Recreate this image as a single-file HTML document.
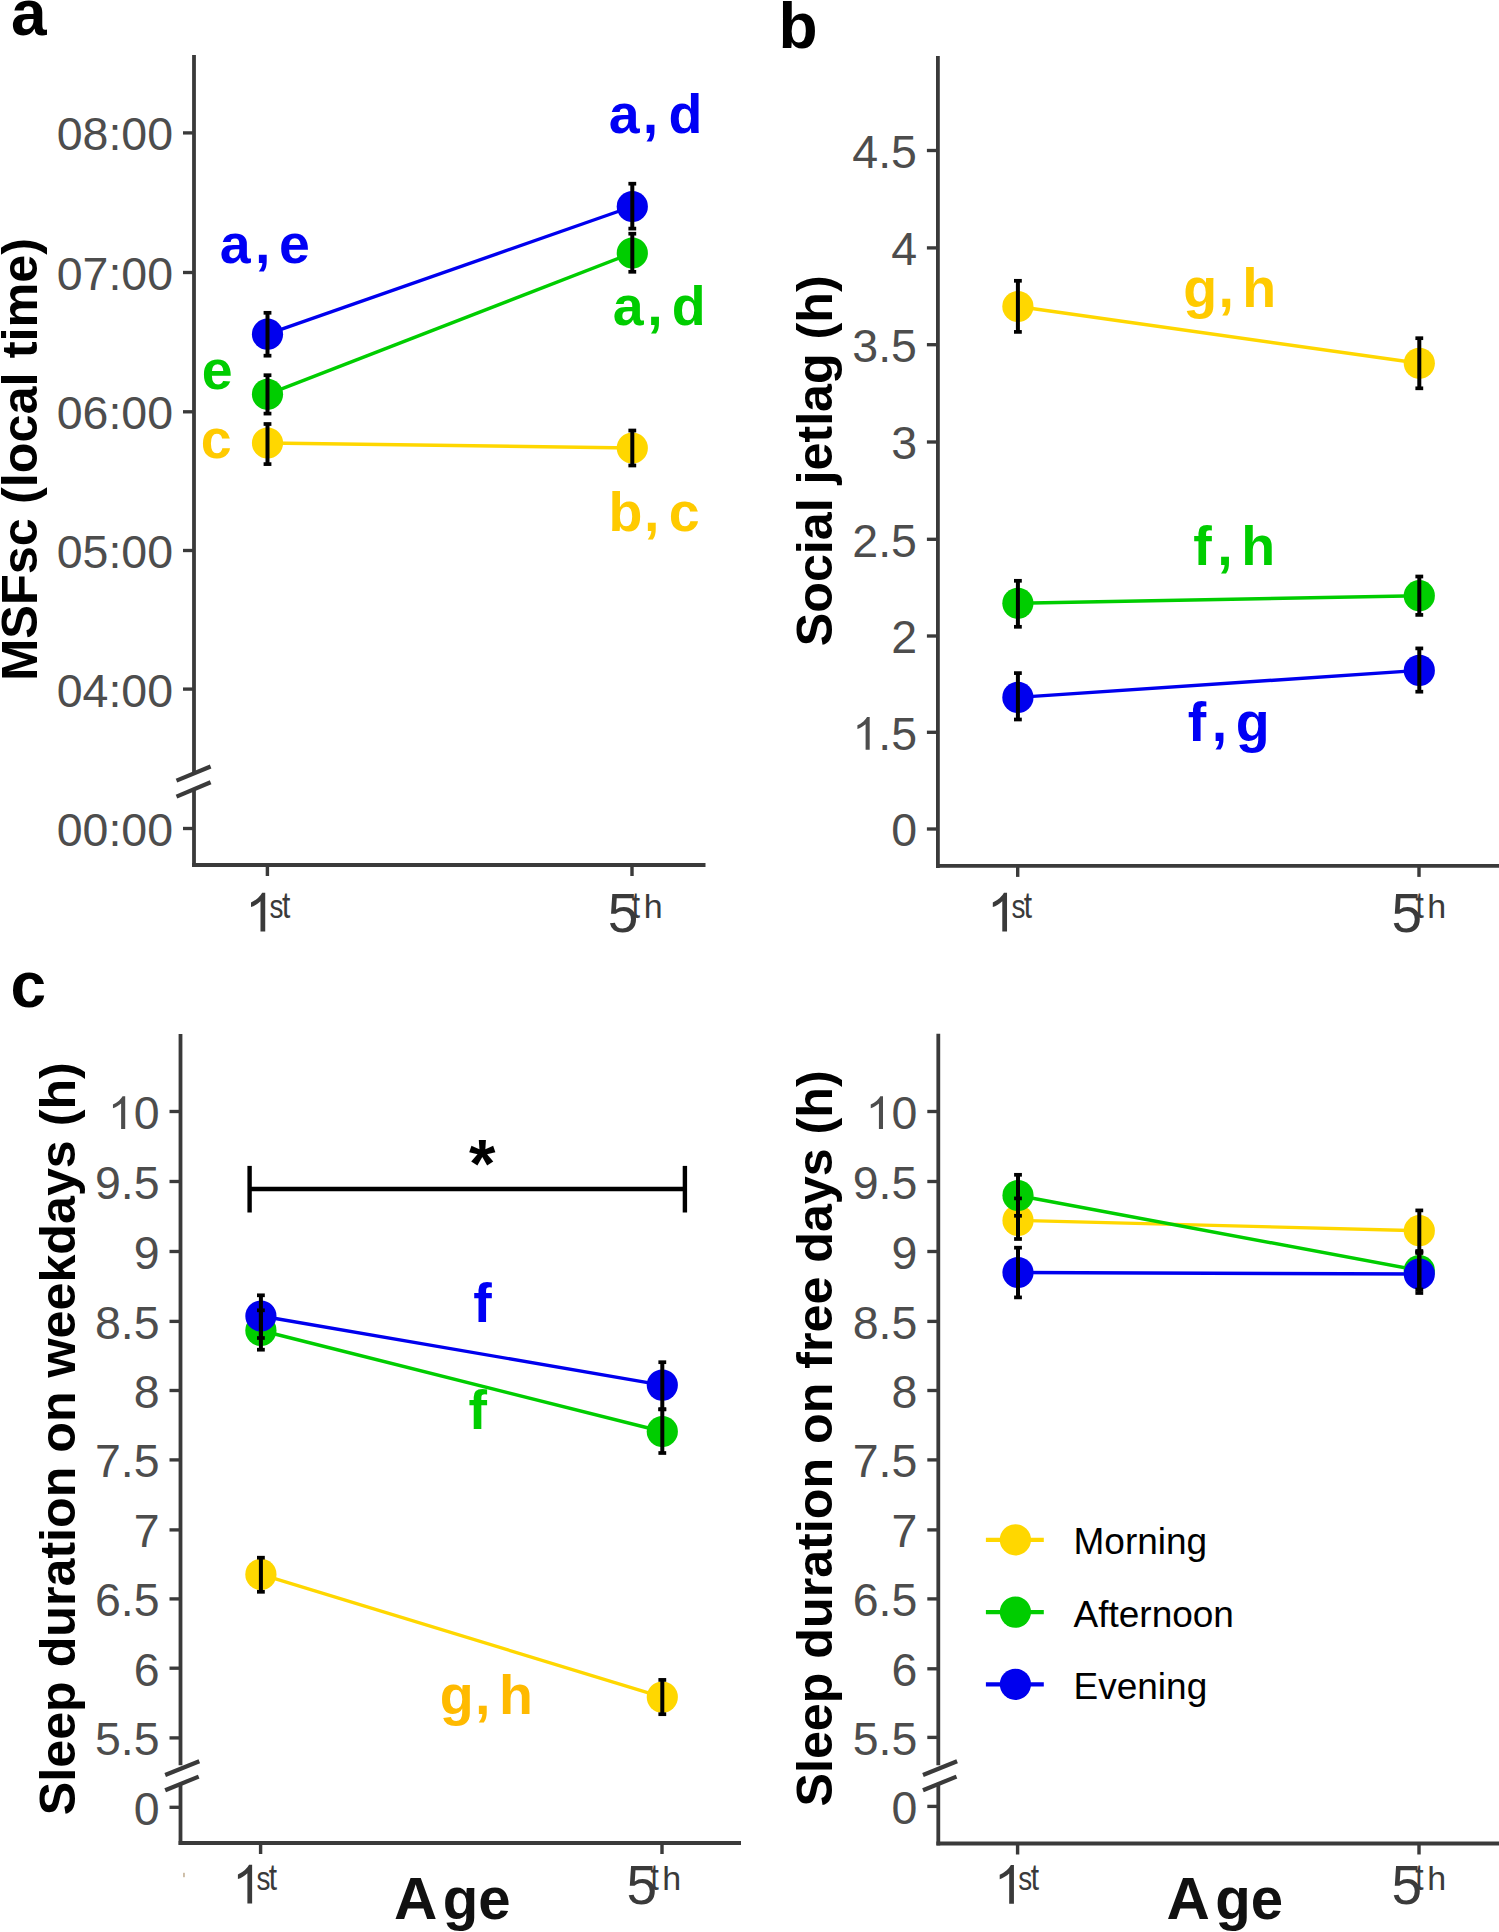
<!DOCTYPE html>
<html><head><meta charset="utf-8"><style>
html,body{margin:0;padding:0;background:#fff;overflow:hidden}
svg{display:block;font-family:"Liberation Sans",sans-serif}
</style></head><body>
<svg width="1499" height="1932" viewBox="0 0 1499 1932">
<rect width="1499" height="1932" fill="#fff"/>
<text x="11" y="35.3" font-size="64" fill="#000" font-weight="bold" text-anchor="start" >a</text>
<line x1="194" y1="55" x2="194" y2="774" stroke="#3A3A3A" stroke-width="3.8" stroke-linecap="butt"/>
<line x1="194" y1="790" x2="194" y2="866.9" stroke="#3A3A3A" stroke-width="3.8" stroke-linecap="butt"/>
<line x1="183" y1="132.9" x2="194" y2="132.9" stroke="#3A3A3A" stroke-width="3.344" stroke-linecap="butt"/>
<text x="173.10" y="150.30" font-size="46.5" fill="#4D4D4D" font-weight="normal" text-anchor="end" >08:00</text>
<line x1="183" y1="272.5" x2="194" y2="272.5" stroke="#3A3A3A" stroke-width="3.344" stroke-linecap="butt"/>
<text x="173.10" y="289.90" font-size="46.5" fill="#4D4D4D" font-weight="normal" text-anchor="end" >07:00</text>
<line x1="183" y1="411.8" x2="194" y2="411.8" stroke="#3A3A3A" stroke-width="3.344" stroke-linecap="butt"/>
<text x="173.10" y="429.20" font-size="46.5" fill="#4D4D4D" font-weight="normal" text-anchor="end" >06:00</text>
<line x1="183" y1="550.5" x2="194" y2="550.5" stroke="#3A3A3A" stroke-width="3.344" stroke-linecap="butt"/>
<text x="173.10" y="567.90" font-size="46.5" fill="#4D4D4D" font-weight="normal" text-anchor="end" >05:00</text>
<line x1="183" y1="689.1" x2="194" y2="689.1" stroke="#3A3A3A" stroke-width="3.344" stroke-linecap="butt"/>
<text x="173.10" y="706.50" font-size="46.5" fill="#4D4D4D" font-weight="normal" text-anchor="end" >04:00</text>
<line x1="183" y1="828.5" x2="194" y2="828.5" stroke="#3A3A3A" stroke-width="3.344" stroke-linecap="butt"/>
<text x="173.10" y="845.90" font-size="46.5" fill="#4D4D4D" font-weight="normal" text-anchor="end" >00:00</text>
<line x1="192.1" y1="865" x2="705.5" y2="865" stroke="#3A3A3A" stroke-width="3.8" stroke-linecap="butt"/>
<line x1="267.4" y1="865" x2="267.4" y2="876" stroke="#3A3A3A" stroke-width="3.42" stroke-linecap="butt"/>
<line x1="632" y1="865" x2="632" y2="876" stroke="#3A3A3A" stroke-width="3.42" stroke-linecap="butt"/>
<line x1="176.5" y1="780.6" x2="210.6" y2="766.5" stroke="#3A3A3A" stroke-width="4.2" stroke-linecap="butt"/>
<line x1="176.5" y1="796.6" x2="210.6" y2="782.2" stroke="#3A3A3A" stroke-width="4.2" stroke-linecap="butt"/>
<text transform="translate(37.4,680.7) rotate(-90)" font-size="50.45" font-weight="bold" fill="#000">MSFsc (local time)</text>
<path d="M763 0L583 0L583 1147Q518 1085 413 1023Q308 961 223 930L223 1104Q374 1175 487 1276Q600 1377 647 1472L763 1472Z" fill="#3A3A3A" transform="translate(245.12,931.60) scale(0.02636,-0.02636)"/>
<text transform="translate(269.62,918.40) scale(0.82,1)" font-size="34" fill="#3A3A3A">s</text>
<text transform="translate(281.95,918.40) scale(0.88,1.11)" font-size="34" fill="#3A3A3A">t</text>
<text x="607.80" y="932.20" font-size="55" fill="#3A3A3A" font-weight="normal" text-anchor="start" >5</text>
<text transform="translate(631.75,918.40) scale(0.88,1.11)" font-size="34" fill="#3A3A3A">t</text>
<text x="643.64" y="918.40" font-size="34" fill="#3A3A3A" font-weight="normal" text-anchor="start" >h</text>
<line x1="267.5" y1="443" x2="632.3" y2="448" stroke="#FFD700" stroke-width="3.4" stroke-linecap="butt"/>
<line x1="267.5" y1="394.3" x2="632.3" y2="253" stroke="#00CD00" stroke-width="3.4" stroke-linecap="butt"/>
<line x1="267.5" y1="334.2" x2="632.3" y2="206.5" stroke="#0000EE" stroke-width="3.4" stroke-linecap="butt"/>
<circle cx="267.5" cy="443" r="15.6" fill="#FFD700"/>
<circle cx="632.3" cy="448" r="15.6" fill="#FFD700"/>
<circle cx="267.5" cy="394.3" r="15.6" fill="#00CD00"/>
<circle cx="632.3" cy="253" r="15.6" fill="#00CD00"/>
<circle cx="267.5" cy="334.2" r="15.6" fill="#0000EE"/>
<circle cx="632.3" cy="206.5" r="15.6" fill="#0000EE"/>
<rect x="265.50" y="424.00" width="4.0" height="40.10" fill="#000"/>
<rect x="263.60" y="422.15" width="7.8" height="3.7" fill="#000"/>
<rect x="263.60" y="462.25" width="7.8" height="3.7" fill="#000"/>
<rect x="630.30" y="430.50" width="4.0" height="35.00" fill="#000"/>
<rect x="628.40" y="428.65" width="7.8" height="3.7" fill="#000"/>
<rect x="628.40" y="463.65" width="7.8" height="3.7" fill="#000"/>
<rect x="265.50" y="375.20" width="4.0" height="38.40" fill="#000"/>
<rect x="263.60" y="373.35" width="7.8" height="3.7" fill="#000"/>
<rect x="263.60" y="411.75" width="7.8" height="3.7" fill="#000"/>
<rect x="630.30" y="233.70" width="4.0" height="38.10" fill="#000"/>
<rect x="628.40" y="231.85" width="7.8" height="3.7" fill="#000"/>
<rect x="628.40" y="269.95" width="7.8" height="3.7" fill="#000"/>
<rect x="265.50" y="312.80" width="4.0" height="42.90" fill="#000"/>
<rect x="263.60" y="310.95" width="7.8" height="3.7" fill="#000"/>
<rect x="263.60" y="353.85" width="7.8" height="3.7" fill="#000"/>
<rect x="630.30" y="183.70" width="4.0" height="44.90" fill="#000"/>
<rect x="628.40" y="181.85" width="7.8" height="3.7" fill="#000"/>
<rect x="628.40" y="226.75" width="7.8" height="3.7" fill="#000"/>
<text x="608.67" y="133.4" font-size="55.5" fill="#0000F5" font-weight="bold" text-anchor="start" >a</text>
<text x="642.83" y="133.4" font-size="55.5" fill="#0000F5" font-weight="bold" text-anchor="start" >,</text>
<text x="668.52" y="133.4" font-size="55.5" fill="#0000F5" font-weight="bold" text-anchor="start" >d</text>
<text x="219.87" y="263" font-size="55.5" fill="#0000F5" font-weight="bold" text-anchor="start" >a</text>
<text x="255.03" y="263" font-size="55.5" fill="#0000F5" font-weight="bold" text-anchor="start" >,</text>
<text x="278.94" y="263" font-size="55.5" fill="#0000F5" font-weight="bold" text-anchor="start" >e</text>
<text x="612.67" y="324.5" font-size="55.5" fill="#00CD00" font-weight="bold" text-anchor="start" >a</text>
<text x="647.33" y="324.5" font-size="55.5" fill="#00CD00" font-weight="bold" text-anchor="start" >,</text>
<text x="671.82" y="324.5" font-size="55.5" fill="#00CD00" font-weight="bold" text-anchor="start" >d</text>
<text x="201.84" y="389.3" font-size="55.5" fill="#00CD00" font-weight="bold" text-anchor="start" >e</text>
<text x="200.64" y="457.9" font-size="55.5" fill="#FFCA00" font-weight="bold" text-anchor="start" >c</text>
<text x="608.44" y="530.7" font-size="55.5" fill="#FFCA00" font-weight="bold" text-anchor="start" >b</text>
<text x="643.93" y="530.7" font-size="55.5" fill="#FFCA00" font-weight="bold" text-anchor="start" >,</text>
<text x="668.64" y="530.7" font-size="55.5" fill="#FFCA00" font-weight="bold" text-anchor="start" >c</text>
<text x="778.5" y="47.7" font-size="64" fill="#000" font-weight="bold" text-anchor="start" >b</text>
<line x1="937.9" y1="56" x2="937.9" y2="867.9" stroke="#3A3A3A" stroke-width="3.8" stroke-linecap="butt"/>
<line x1="926.9" y1="150.5" x2="937.9" y2="150.5" stroke="#3A3A3A" stroke-width="3.344" stroke-linecap="butt"/>
<text x="917.00" y="167.90" font-size="46.5" fill="#4D4D4D" font-weight="normal" text-anchor="end" >4.5</text>
<line x1="926.9" y1="247.9" x2="937.9" y2="247.9" stroke="#3A3A3A" stroke-width="3.344" stroke-linecap="butt"/>
<text x="917.00" y="265.30" font-size="46.5" fill="#4D4D4D" font-weight="normal" text-anchor="end" >4</text>
<line x1="926.9" y1="344.7" x2="937.9" y2="344.7" stroke="#3A3A3A" stroke-width="3.344" stroke-linecap="butt"/>
<text x="917.00" y="362.10" font-size="46.5" fill="#4D4D4D" font-weight="normal" text-anchor="end" >3.5</text>
<line x1="926.9" y1="442.0" x2="937.9" y2="442.0" stroke="#3A3A3A" stroke-width="3.344" stroke-linecap="butt"/>
<text x="917.00" y="459.40" font-size="46.5" fill="#4D4D4D" font-weight="normal" text-anchor="end" >3</text>
<line x1="926.9" y1="539.3" x2="937.9" y2="539.3" stroke="#3A3A3A" stroke-width="3.344" stroke-linecap="butt"/>
<text x="917.00" y="556.70" font-size="46.5" fill="#4D4D4D" font-weight="normal" text-anchor="end" >2.5</text>
<line x1="926.9" y1="636.0" x2="937.9" y2="636.0" stroke="#3A3A3A" stroke-width="3.344" stroke-linecap="butt"/>
<text x="917.00" y="653.40" font-size="46.5" fill="#4D4D4D" font-weight="normal" text-anchor="end" >2</text>
<line x1="926.9" y1="732.3" x2="937.9" y2="732.3" stroke="#3A3A3A" stroke-width="3.344" stroke-linecap="butt"/>
<path d="M763 0L583 0L583 1147Q518 1085 413 1023Q308 961 223 930L223 1104Q374 1175 487 1276Q600 1377 647 1472L763 1472Z" fill="#4D4D4D" transform="translate(852.36,749.70) scale(0.02271,-0.02214)"/>
<text x="917.00" y="749.70" font-size="46.5" fill="#4D4D4D" font-weight="normal" text-anchor="end" >.5</text>
<line x1="926.9" y1="829.0" x2="937.9" y2="829.0" stroke="#3A3A3A" stroke-width="3.344" stroke-linecap="butt"/>
<text x="917.00" y="846.40" font-size="46.5" fill="#4D4D4D" font-weight="normal" text-anchor="end" >0</text>
<line x1="936" y1="865.9" x2="1499" y2="865.9" stroke="#3A3A3A" stroke-width="3.8" stroke-linecap="butt"/>
<line x1="1017.7" y1="865.9" x2="1017.7" y2="876.9" stroke="#3A3A3A" stroke-width="3.42" stroke-linecap="butt"/>
<line x1="1419" y1="865.9" x2="1419" y2="876.9" stroke="#3A3A3A" stroke-width="3.42" stroke-linecap="butt"/>
<text transform="translate(832,646.2) rotate(-90)" font-size="50.2" font-weight="bold" fill="#000">Social jetlag (h)</text>
<path d="M763 0L583 0L583 1147Q518 1085 413 1023Q308 961 223 930L223 1104Q374 1175 487 1276Q600 1377 647 1472L763 1472Z" fill="#3A3A3A" transform="translate(986.92,931.60) scale(0.02636,-0.02636)"/>
<text transform="translate(1011.42,918.40) scale(0.82,1)" font-size="34" fill="#3A3A3A">s</text>
<text transform="translate(1023.75,918.40) scale(0.88,1.11)" font-size="34" fill="#3A3A3A">t</text>
<text x="1391.50" y="932.20" font-size="55" fill="#3A3A3A" font-weight="normal" text-anchor="start" >5</text>
<text transform="translate(1415.45,918.40) scale(0.88,1.11)" font-size="34" fill="#3A3A3A">t</text>
<text x="1427.34" y="918.40" font-size="34" fill="#3A3A3A" font-weight="normal" text-anchor="start" >h</text>
<line x1="1017.9" y1="306.5" x2="1419.3" y2="363.3" stroke="#FFD700" stroke-width="3.4" stroke-linecap="butt"/>
<line x1="1017.9" y1="603.3" x2="1419.3" y2="595.7" stroke="#00CD00" stroke-width="3.4" stroke-linecap="butt"/>
<line x1="1017.9" y1="697.4" x2="1419.3" y2="670.4" stroke="#0000EE" stroke-width="3.4" stroke-linecap="butt"/>
<circle cx="1017.9" cy="306.5" r="15.6" fill="#FFD700"/>
<circle cx="1419.3" cy="363.3" r="15.6" fill="#FFD700"/>
<circle cx="1017.9" cy="603.3" r="15.6" fill="#00CD00"/>
<circle cx="1419.3" cy="595.7" r="15.6" fill="#00CD00"/>
<circle cx="1017.9" cy="697.4" r="15.6" fill="#0000EE"/>
<circle cx="1419.3" cy="670.4" r="15.6" fill="#0000EE"/>
<rect x="1015.90" y="280.80" width="4.0" height="51.10" fill="#000"/>
<rect x="1014.00" y="278.95" width="7.8" height="3.7" fill="#000"/>
<rect x="1014.00" y="330.05" width="7.8" height="3.7" fill="#000"/>
<rect x="1417.30" y="338.20" width="4.0" height="50.10" fill="#000"/>
<rect x="1415.40" y="336.35" width="7.8" height="3.7" fill="#000"/>
<rect x="1415.40" y="386.45" width="7.8" height="3.7" fill="#000"/>
<rect x="1015.90" y="580.80" width="4.0" height="46.00" fill="#000"/>
<rect x="1014.00" y="578.95" width="7.8" height="3.7" fill="#000"/>
<rect x="1014.00" y="624.95" width="7.8" height="3.7" fill="#000"/>
<rect x="1417.30" y="576.50" width="4.0" height="38.40" fill="#000"/>
<rect x="1415.40" y="574.65" width="7.8" height="3.7" fill="#000"/>
<rect x="1415.40" y="613.05" width="7.8" height="3.7" fill="#000"/>
<rect x="1015.90" y="673.10" width="4.0" height="46.40" fill="#000"/>
<rect x="1014.00" y="671.25" width="7.8" height="3.7" fill="#000"/>
<rect x="1014.00" y="717.65" width="7.8" height="3.7" fill="#000"/>
<rect x="1417.30" y="648.40" width="4.0" height="43.30" fill="#000"/>
<rect x="1415.40" y="646.55" width="7.8" height="3.7" fill="#000"/>
<rect x="1415.40" y="689.85" width="7.8" height="3.7" fill="#000"/>
<text x="1183.32" y="306.7" font-size="55.5" fill="#FFCA00" font-weight="bold" text-anchor="start" >g</text>
<text x="1218.53" y="306.7" font-size="55.5" fill="#FFCA00" font-weight="bold" text-anchor="start" >,</text>
<text x="1242.33" y="306.7" font-size="55.5" fill="#FFCA00" font-weight="bold" text-anchor="start" >h</text>
<text x="1193.35" y="564.7" font-size="55.5" fill="#00CD00" font-weight="bold" text-anchor="start" >f</text>
<text x="1217.23" y="564.7" font-size="55.5" fill="#00CD00" font-weight="bold" text-anchor="start" >,</text>
<text x="1241.13" y="564.7" font-size="55.5" fill="#00CD00" font-weight="bold" text-anchor="start" >h</text>
<text x="1187.75" y="741.4" font-size="55.5" fill="#0000F5" font-weight="bold" text-anchor="start" >f</text>
<text x="1211.63" y="741.4" font-size="55.5" fill="#0000F5" font-weight="bold" text-anchor="start" >,</text>
<text x="1235.72" y="741.4" font-size="55.5" fill="#0000F5" font-weight="bold" text-anchor="start" >g</text>
<text x="10.5" y="1007.4" font-size="64" fill="#000" font-weight="bold" text-anchor="start" >c</text>
<line x1="180.5" y1="1034" x2="180.5" y2="1765.3" stroke="#3A3A3A" stroke-width="3.8" stroke-linecap="butt"/>
<line x1="180.5" y1="1784.6" x2="180.5" y2="1844.9" stroke="#3A3A3A" stroke-width="3.8" stroke-linecap="butt"/>
<line x1="169.5" y1="1111.5" x2="180.5" y2="1111.5" stroke="#3A3A3A" stroke-width="3.344" stroke-linecap="butt"/>
<path d="M763 0L583 0L583 1147Q518 1085 413 1023Q308 961 223 930L223 1104Q374 1175 487 1276Q600 1377 647 1472L763 1472Z" fill="#4D4D4D" transform="translate(107.88,1128.90) scale(0.02271,-0.02214)"/>
<text x="159.60" y="1128.90" font-size="46.5" fill="#4D4D4D" font-weight="normal" text-anchor="end" >0</text>
<line x1="169.5" y1="1181.5" x2="180.5" y2="1181.5" stroke="#3A3A3A" stroke-width="3.344" stroke-linecap="butt"/>
<text x="159.60" y="1198.90" font-size="46.5" fill="#4D4D4D" font-weight="normal" text-anchor="end" >9.5</text>
<line x1="169.5" y1="1251.5" x2="180.5" y2="1251.5" stroke="#3A3A3A" stroke-width="3.344" stroke-linecap="butt"/>
<text x="159.60" y="1268.90" font-size="46.5" fill="#4D4D4D" font-weight="normal" text-anchor="end" >9</text>
<line x1="169.5" y1="1321.4" x2="180.5" y2="1321.4" stroke="#3A3A3A" stroke-width="3.344" stroke-linecap="butt"/>
<text x="159.60" y="1338.80" font-size="46.5" fill="#4D4D4D" font-weight="normal" text-anchor="end" >8.5</text>
<line x1="169.5" y1="1390.5" x2="180.5" y2="1390.5" stroke="#3A3A3A" stroke-width="3.344" stroke-linecap="butt"/>
<text x="159.60" y="1407.90" font-size="46.5" fill="#4D4D4D" font-weight="normal" text-anchor="end" >8</text>
<line x1="169.5" y1="1459.9" x2="180.5" y2="1459.9" stroke="#3A3A3A" stroke-width="3.344" stroke-linecap="butt"/>
<text x="159.60" y="1477.30" font-size="46.5" fill="#4D4D4D" font-weight="normal" text-anchor="end" >7.5</text>
<line x1="169.5" y1="1529.9" x2="180.5" y2="1529.9" stroke="#3A3A3A" stroke-width="3.344" stroke-linecap="butt"/>
<text x="159.60" y="1547.30" font-size="46.5" fill="#4D4D4D" font-weight="normal" text-anchor="end" >7</text>
<line x1="169.5" y1="1598.9" x2="180.5" y2="1598.9" stroke="#3A3A3A" stroke-width="3.344" stroke-linecap="butt"/>
<text x="159.60" y="1616.30" font-size="46.5" fill="#4D4D4D" font-weight="normal" text-anchor="end" >6.5</text>
<line x1="169.5" y1="1668.2" x2="180.5" y2="1668.2" stroke="#3A3A3A" stroke-width="3.344" stroke-linecap="butt"/>
<text x="159.60" y="1685.60" font-size="46.5" fill="#4D4D4D" font-weight="normal" text-anchor="end" >6</text>
<line x1="169.5" y1="1737.9" x2="180.5" y2="1737.9" stroke="#3A3A3A" stroke-width="3.344" stroke-linecap="butt"/>
<text x="159.60" y="1755.30" font-size="46.5" fill="#4D4D4D" font-weight="normal" text-anchor="end" >5.5</text>
<line x1="169.5" y1="1807.3" x2="180.5" y2="1807.3" stroke="#3A3A3A" stroke-width="3.344" stroke-linecap="butt"/>
<text x="159.60" y="1824.70" font-size="46.5" fill="#4D4D4D" font-weight="normal" text-anchor="end" >0</text>
<line x1="178.6" y1="1843" x2="741" y2="1843" stroke="#3A3A3A" stroke-width="3.8" stroke-linecap="butt"/>
<line x1="260.6" y1="1843" x2="260.6" y2="1854" stroke="#3A3A3A" stroke-width="3.42" stroke-linecap="butt"/>
<line x1="662" y1="1843" x2="662" y2="1854" stroke="#3A3A3A" stroke-width="3.42" stroke-linecap="butt"/>
<line x1="165.2" y1="1775" x2="199.3" y2="1761.3" stroke="#3A3A3A" stroke-width="4.2" stroke-linecap="butt"/>
<line x1="165.2" y1="1790.3" x2="198.7" y2="1776.6" stroke="#3A3A3A" stroke-width="4.2" stroke-linecap="butt"/>
<text transform="translate(75,1815.2) rotate(-90)" font-size="50.2" font-weight="bold" fill="#000">Sleep duration on weekdays (h)</text>
<path d="M763 0L583 0L583 1147Q518 1085 413 1023Q308 961 223 930L223 1104Q374 1175 487 1276Q600 1377 647 1472L763 1472Z" fill="#3A3A3A" transform="translate(232.02,1903.60) scale(0.02636,-0.02636)"/>
<text transform="translate(256.52,1889.70) scale(0.82,1)" font-size="34" fill="#3A3A3A">s</text>
<text transform="translate(268.85,1889.70) scale(0.88,1.11)" font-size="34" fill="#3A3A3A">t</text>
<text x="626.50" y="1903.50" font-size="55" fill="#3A3A3A" font-weight="normal" text-anchor="start" >5</text>
<text transform="translate(650.45,1889.70) scale(0.88,1.11)" font-size="34" fill="#3A3A3A">t</text>
<text x="662.34" y="1889.70" font-size="34" fill="#3A3A3A" font-weight="normal" text-anchor="start" >h</text>
<line x1="260.9" y1="1574.4" x2="662.3" y2="1697.1" stroke="#FFD700" stroke-width="3.4" stroke-linecap="butt"/>
<line x1="260.9" y1="1330.5" x2="662.3" y2="1431.5" stroke="#00CD00" stroke-width="3.4" stroke-linecap="butt"/>
<line x1="260.9" y1="1316" x2="662.3" y2="1385.1" stroke="#0000EE" stroke-width="3.4" stroke-linecap="butt"/>
<circle cx="260.9" cy="1574.4" r="15.6" fill="#FFD700"/>
<circle cx="662.3" cy="1697.1" r="15.6" fill="#FFD700"/>
<circle cx="260.9" cy="1330.5" r="15.6" fill="#00CD00"/>
<circle cx="662.3" cy="1431.5" r="15.6" fill="#00CD00"/>
<circle cx="260.9" cy="1316" r="15.6" fill="#0000EE"/>
<circle cx="662.3" cy="1385.1" r="15.6" fill="#0000EE"/>
<rect x="258.90" y="1557.70" width="4.0" height="34.10" fill="#000"/>
<rect x="257.00" y="1555.85" width="7.8" height="3.7" fill="#000"/>
<rect x="257.00" y="1589.95" width="7.8" height="3.7" fill="#000"/>
<rect x="660.30" y="1679.90" width="4.0" height="34.30" fill="#000"/>
<rect x="658.40" y="1678.05" width="7.8" height="3.7" fill="#000"/>
<rect x="658.40" y="1712.35" width="7.8" height="3.7" fill="#000"/>
<rect x="258.90" y="1310.30" width="4.0" height="39.40" fill="#000"/>
<rect x="257.00" y="1308.45" width="7.8" height="3.7" fill="#000"/>
<rect x="257.00" y="1347.85" width="7.8" height="3.7" fill="#000"/>
<rect x="660.30" y="1409.30" width="4.0" height="43.70" fill="#000"/>
<rect x="658.40" y="1407.45" width="7.8" height="3.7" fill="#000"/>
<rect x="658.40" y="1451.15" width="7.8" height="3.7" fill="#000"/>
<rect x="258.90" y="1295.30" width="4.0" height="42.70" fill="#000"/>
<rect x="257.00" y="1293.45" width="7.8" height="3.7" fill="#000"/>
<rect x="257.00" y="1336.15" width="7.8" height="3.7" fill="#000"/>
<rect x="660.30" y="1362.20" width="4.0" height="47.10" fill="#000"/>
<rect x="658.40" y="1360.35" width="7.8" height="3.7" fill="#000"/>
<rect x="658.40" y="1407.45" width="7.8" height="3.7" fill="#000"/>
<line x1="249.6" y1="1189" x2="684.9" y2="1189" stroke="#000" stroke-width="4.4" stroke-linecap="butt"/>
<line x1="249.6" y1="1165.9" x2="249.6" y2="1212.5" stroke="#000" stroke-width="4.4" stroke-linecap="butt"/>
<line x1="684.9" y1="1165.9" x2="684.9" y2="1212.5" stroke="#000" stroke-width="4.4" stroke-linecap="butt"/>
<text x="469" y="1186.6" font-size="68" fill="#000" font-weight="bold" text-anchor="start" >*</text>
<text x="473.35" y="1321.5" font-size="55.5" fill="#0000F5" font-weight="bold" text-anchor="start" >f</text>
<text x="468.55" y="1429.4" font-size="55.5" fill="#00CD00" font-weight="bold" text-anchor="start" >f</text>
<text x="439.72" y="1714.1" font-size="55.5" fill="#FFBA00" font-weight="bold" text-anchor="start" >g</text>
<text x="475.03" y="1714.1" font-size="55.5" fill="#FFBA00" font-weight="bold" text-anchor="start" >,</text>
<text x="499.03" y="1714.1" font-size="55.5" fill="#FFBA00" font-weight="bold" text-anchor="start" >h</text>
<text x="394.0" y="1918.9" font-size="60" fill="#111" font-weight="bold" text-anchor="start" >A</text>
<text transform="translate(442.7,1918.9) scale(0.97,1)" font-size="60" font-weight="bold" fill="#111">ge</text>
<rect x="183" y="1872.8" width="1.9" height="4.4" fill="#CDBDA7"/>
<line x1="938.3" y1="1033.8" x2="938.3" y2="1765.3" stroke="#3A3A3A" stroke-width="3.8" stroke-linecap="butt"/>
<line x1="938.3" y1="1784.6" x2="938.3" y2="1845.4" stroke="#3A3A3A" stroke-width="3.8" stroke-linecap="butt"/>
<line x1="927.3" y1="1111.5" x2="938.3" y2="1111.5" stroke="#3A3A3A" stroke-width="3.344" stroke-linecap="butt"/>
<path d="M763 0L583 0L583 1147Q518 1085 413 1023Q308 961 223 930L223 1104Q374 1175 487 1276Q600 1377 647 1472L763 1472Z" fill="#4D4D4D" transform="translate(865.68,1128.90) scale(0.02271,-0.02214)"/>
<text x="917.40" y="1128.90" font-size="46.5" fill="#4D4D4D" font-weight="normal" text-anchor="end" >0</text>
<line x1="927.3" y1="1181.5" x2="938.3" y2="1181.5" stroke="#3A3A3A" stroke-width="3.344" stroke-linecap="butt"/>
<text x="917.40" y="1198.90" font-size="46.5" fill="#4D4D4D" font-weight="normal" text-anchor="end" >9.5</text>
<line x1="927.3" y1="1251.5" x2="938.3" y2="1251.5" stroke="#3A3A3A" stroke-width="3.344" stroke-linecap="butt"/>
<text x="917.40" y="1268.90" font-size="46.5" fill="#4D4D4D" font-weight="normal" text-anchor="end" >9</text>
<line x1="927.3" y1="1321.4" x2="938.3" y2="1321.4" stroke="#3A3A3A" stroke-width="3.344" stroke-linecap="butt"/>
<text x="917.40" y="1338.80" font-size="46.5" fill="#4D4D4D" font-weight="normal" text-anchor="end" >8.5</text>
<line x1="927.3" y1="1390.5" x2="938.3" y2="1390.5" stroke="#3A3A3A" stroke-width="3.344" stroke-linecap="butt"/>
<text x="917.40" y="1407.90" font-size="46.5" fill="#4D4D4D" font-weight="normal" text-anchor="end" >8</text>
<line x1="927.3" y1="1459.9" x2="938.3" y2="1459.9" stroke="#3A3A3A" stroke-width="3.344" stroke-linecap="butt"/>
<text x="917.40" y="1477.30" font-size="46.5" fill="#4D4D4D" font-weight="normal" text-anchor="end" >7.5</text>
<line x1="927.3" y1="1529.9" x2="938.3" y2="1529.9" stroke="#3A3A3A" stroke-width="3.344" stroke-linecap="butt"/>
<text x="917.40" y="1547.30" font-size="46.5" fill="#4D4D4D" font-weight="normal" text-anchor="end" >7</text>
<line x1="927.3" y1="1598.9" x2="938.3" y2="1598.9" stroke="#3A3A3A" stroke-width="3.344" stroke-linecap="butt"/>
<text x="917.40" y="1616.30" font-size="46.5" fill="#4D4D4D" font-weight="normal" text-anchor="end" >6.5</text>
<line x1="927.3" y1="1668.8" x2="938.3" y2="1668.8" stroke="#3A3A3A" stroke-width="3.344" stroke-linecap="butt"/>
<text x="917.40" y="1686.20" font-size="46.5" fill="#4D4D4D" font-weight="normal" text-anchor="end" >6</text>
<line x1="927.3" y1="1737.4" x2="938.3" y2="1737.4" stroke="#3A3A3A" stroke-width="3.344" stroke-linecap="butt"/>
<text x="917.40" y="1754.80" font-size="46.5" fill="#4D4D4D" font-weight="normal" text-anchor="end" >5.5</text>
<line x1="927.3" y1="1806.4" x2="938.3" y2="1806.4" stroke="#3A3A3A" stroke-width="3.344" stroke-linecap="butt"/>
<text x="917.40" y="1823.80" font-size="46.5" fill="#4D4D4D" font-weight="normal" text-anchor="end" >0</text>
<line x1="936.4" y1="1843.5" x2="1499" y2="1843.5" stroke="#3A3A3A" stroke-width="3.8" stroke-linecap="butt"/>
<line x1="1017.6" y1="1843.5" x2="1017.6" y2="1854.5" stroke="#3A3A3A" stroke-width="3.42" stroke-linecap="butt"/>
<line x1="1419" y1="1843.5" x2="1419" y2="1854.5" stroke="#3A3A3A" stroke-width="3.42" stroke-linecap="butt"/>
<line x1="923" y1="1775" x2="957.1" y2="1761.3" stroke="#3A3A3A" stroke-width="4.2" stroke-linecap="butt"/>
<line x1="923" y1="1790.3" x2="956.5" y2="1776.6" stroke="#3A3A3A" stroke-width="4.2" stroke-linecap="butt"/>
<text transform="translate(832,1806.5) rotate(-90)" font-size="50.2" font-weight="bold" fill="#000">Sleep duration on free days (h)</text>
<path d="M763 0L583 0L583 1147Q518 1085 413 1023Q308 961 223 930L223 1104Q374 1175 487 1276Q600 1377 647 1472L763 1472Z" fill="#3A3A3A" transform="translate(993.82,1903.80) scale(0.02636,-0.02636)"/>
<text transform="translate(1018.32,1890.00) scale(0.82,1)" font-size="34" fill="#3A3A3A">s</text>
<text transform="translate(1030.65,1890.00) scale(0.88,1.11)" font-size="34" fill="#3A3A3A">t</text>
<text x="1391.40" y="1903.80" font-size="55" fill="#3A3A3A" font-weight="normal" text-anchor="start" >5</text>
<text transform="translate(1415.35,1890.00) scale(0.88,1.11)" font-size="34" fill="#3A3A3A">t</text>
<text x="1427.24" y="1890.00" font-size="34" fill="#3A3A3A" font-weight="normal" text-anchor="start" >h</text>
<line x1="1018" y1="1220.4" x2="1419.3" y2="1230.7" stroke="#FFD700" stroke-width="3.4" stroke-linecap="butt"/>
<line x1="1018" y1="1195.5" x2="1419.3" y2="1270.5" stroke="#00CD00" stroke-width="3.4" stroke-linecap="butt"/>
<line x1="1018" y1="1272.5" x2="1419.3" y2="1274" stroke="#0000EE" stroke-width="3.4" stroke-linecap="butt"/>
<circle cx="1018" cy="1220.4" r="15.6" fill="#FFD700"/>
<circle cx="1419.3" cy="1230.7" r="15.6" fill="#FFD700"/>
<circle cx="1018" cy="1195.5" r="15.6" fill="#00CD00"/>
<circle cx="1419.3" cy="1270.5" r="15.6" fill="#00CD00"/>
<circle cx="1018" cy="1272.5" r="15.6" fill="#0000EE"/>
<circle cx="1419.3" cy="1274" r="15.6" fill="#0000EE"/>
<rect x="1016.00" y="1198.40" width="4.0" height="40.60" fill="#000"/>
<rect x="1014.10" y="1196.55" width="7.8" height="3.7" fill="#000"/>
<rect x="1014.10" y="1237.15" width="7.8" height="3.7" fill="#000"/>
<rect x="1417.30" y="1210.40" width="4.0" height="40.60" fill="#000"/>
<rect x="1415.40" y="1208.55" width="7.8" height="3.7" fill="#000"/>
<rect x="1415.40" y="1249.15" width="7.8" height="3.7" fill="#000"/>
<rect x="1016.00" y="1174.80" width="4.0" height="41.00" fill="#000"/>
<rect x="1014.10" y="1172.95" width="7.8" height="3.7" fill="#000"/>
<rect x="1014.10" y="1213.95" width="7.8" height="3.7" fill="#000"/>
<rect x="1417.30" y="1252.00" width="4.0" height="37.50" fill="#000"/>
<rect x="1415.40" y="1250.15" width="7.8" height="3.7" fill="#000"/>
<rect x="1415.40" y="1287.65" width="7.8" height="3.7" fill="#000"/>
<rect x="1016.00" y="1247.70" width="4.0" height="49.70" fill="#000"/>
<rect x="1014.10" y="1245.85" width="7.8" height="3.7" fill="#000"/>
<rect x="1014.10" y="1295.55" width="7.8" height="3.7" fill="#000"/>
<rect x="1417.30" y="1253.00" width="4.0" height="40.00" fill="#000"/>
<rect x="1415.40" y="1251.15" width="7.8" height="3.7" fill="#000"/>
<rect x="1415.40" y="1291.15" width="7.8" height="3.7" fill="#000"/>
<line x1="985.9" y1="1539.8" x2="1043.8" y2="1539.8" stroke="#FFD700" stroke-width="4.2" stroke-linecap="butt"/>
<circle cx="1015.4" cy="1539.8" r="15.6" fill="#FFD700"/>
<text x="1073.5" y="1554.2" font-size="37" fill="#000" font-weight="normal" text-anchor="start" >Morning</text>
<line x1="985.9" y1="1612.1" x2="1043.8" y2="1612.1" stroke="#00CD00" stroke-width="4.2" stroke-linecap="butt"/>
<circle cx="1015.4" cy="1612.1" r="15.6" fill="#00CD00"/>
<text x="1073.5" y="1626.5" font-size="37" fill="#000" font-weight="normal" text-anchor="start" >Afternoon</text>
<line x1="985.9" y1="1684.3" x2="1043.8" y2="1684.3" stroke="#0000EE" stroke-width="4.2" stroke-linecap="butt"/>
<circle cx="1015.4" cy="1684.3" r="15.6" fill="#0000EE"/>
<text x="1073.5" y="1698.7" font-size="37" fill="#000" font-weight="normal" text-anchor="start" >Evening</text>
<text x="1166.5" y="1918.9" font-size="60" fill="#111" font-weight="bold" text-anchor="start" >A</text>
<text transform="translate(1215.2,1918.9) scale(0.97,1)" font-size="60" font-weight="bold" fill="#111">ge</text>
</svg>
</body></html>
